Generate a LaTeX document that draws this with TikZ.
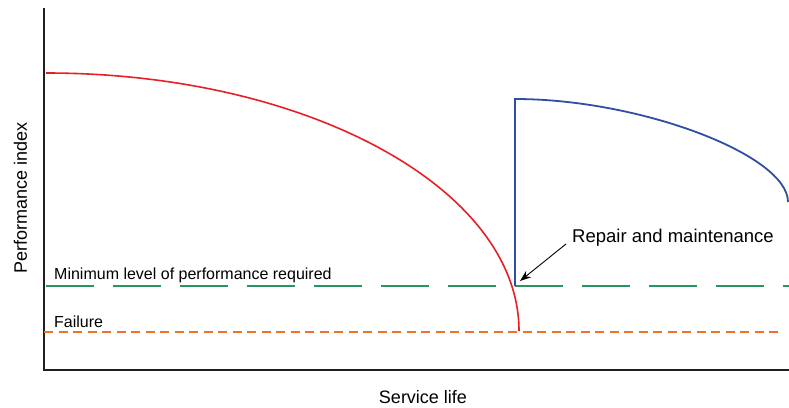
\documentclass[tikz,border=0pt]{standalone}
\usepackage{fontspec}
\setmainfont{Liberation Sans}
\usetikzlibrary{arrows.meta}
\definecolor{cred}{RGB}{232,32,38}
\definecolor{cblue}{RGB}{48,78,162}
\definecolor{cgreen}{RGB}{38,150,96}
\definecolor{corange}{RGB}{242,112,40}
\definecolor{caxis}{RGB}{35,31,32}
\tikzset{
  axisline/.style={caxis,line width=2pt},
  lbl/.style={inner sep=0pt,font=\fontsize{16}{18}\selectfont},
  biglbl/.style={inner sep=0pt,font=\fontsize{18}{21}\selectfont},
  replblstyle/.style={inner sep=0pt,font=\fontsize{18.5}{21}\selectfont},
  minline/.style={cgreen,line width=1.8pt,dash pattern=on 48pt off 19pt},
  failline/.style={corange,line width=1.8pt,dash pattern=on 9pt off 5.5pt},
  redcurve/.style={cred,line width=1.6pt},
  bluecurve/.style={cblue,line width=1.8pt},
  pointer/.style={black,line width=0.9pt,-{Stealth[length=11pt,width=8pt]}}
}
\begin{document}
\begin{tikzpicture}[x=1pt,y=-1pt]
\useasboundingbox (0,0) rectangle (789,407);
% axes
\coordinate (ytop) at (44,8);
\coordinate (orig) at (44,370);
\coordinate (xend) at (789,370);
\draw[axisline] (ytop) -- (orig) -- (xend);
% reference lines
\coordinate (minL) at (46,286);
\coordinate (minR) at (789,286);
\draw[minline] (minL) -- (minR);
\coordinate (failL) at (44,332);
\coordinate (failR) at (782,332);
\draw[failline] (failL) -- (failR);
% red curve
\coordinate (redstart) at (46,73);
\draw[redcurve] (redstart) arc[start angle=-90,end angle=0,x radius=473,y radius=258];
% blue curve
\coordinate (repair) at (515,286);
\coordinate (bluetop) at (515,99);
\coordinate (blueend) at (788,202);
\draw[bluecurve] (repair) -- (bluetop) .. controls (640,99) and (788,155) .. (blueend);
% labels
\node[lbl,anchor=base west] (minlbl) at (54,279) {Minimum level of performance required};
\node[lbl,anchor=base west] (faillbl) at (54,327) {Failure};
\node[replblstyle,anchor=base west] (replbl) at (572,242) {Repair and maintenance};
\node[biglbl,anchor=base] (xlbl) at (423,403) {Service life};
\node[biglbl,anchor=base,rotate=90] (ylbl) at (27,198) {Performance index};
% arrow
\coordinate (arrstart) at (566,244);
\coordinate (arrend) at (520,281);
\draw[pointer] (arrstart) -- (arrend);
\end{tikzpicture}
\end{document}
